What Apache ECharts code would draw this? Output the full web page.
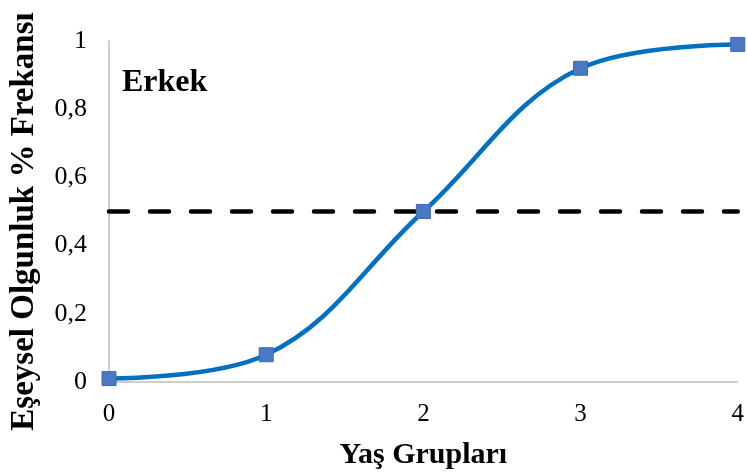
<!DOCTYPE html>
<html>
<head>
<meta charset="utf-8">
<script src="https://cdn.jsdelivr.net/npm/echarts@6/dist/echarts.min.js"></script>
<style>
  html, body { margin: 0; padding: 0; background: #fff; }
  #chart { width: 747px; height: 476px; }
</style>
</head>
<body>
<div id="chart"></div>
<script>
// Age groups and the share of mature males in each
const ageGroups = [0, 1, 2, 3, 4];
const maturity = [0.01, 0.08, 0.5, 0.92, 0.99];
// 50% maturity reference level
const halfLevel = 0.5;
const yTicks = [0, 0.2, 0.4, 0.6, 0.8, 1];

const serif = '"Liberation Serif", "Times New Roman", serif';
const fmt = v => String(Math.round(v * 10) / 10).replace('.', ',');

const chart = echarts.init(document.getElementById('chart'));
chart.setOption({
  animation: false,
  grid: { left: 106, right: 6, top: 41, bottom: 94 },
  title: {
    text: 'Erkek',
    left: 117, top: 62,
    textStyle: { fontFamily: serif, fontSize: 32, fontWeight: 'bold', color: '#000' }
  },
  xAxis: {
    type: 'value',
    min: ageGroups[0], max: ageGroups[ageGroups.length - 1], interval: 1,
    name: 'Yaş Grupları',
    nameLocation: 'middle', nameGap: 58,
    nameTextStyle: { fontFamily: serif, fontSize: 30, fontWeight: 'bold', color: '#000' },
    axisLine: { lineStyle: { color: '#BFBFBF', width: 1.5 } },
    axisTick: { show: false },
    splitLine: { show: false },
    axisLabel: { fontFamily: serif, fontSize: 25, color: '#000', margin: 20 }
  },
  yAxis: {
    type: 'value',
    min: yTicks[0], max: yTicks[yTicks.length - 1], interval: 0.2,
    name: 'Eşeysel Olgunluk % Frekansı',
    nameLocation: 'middle', nameGap: 68,
    nameTextStyle: { fontFamily: serif, fontSize: 33, fontWeight: 'bold', color: '#000', padding: [0, 20, 0, 0] },
    axisLine: { show: true, lineStyle: { color: '#BFBFBF', width: 1.5 } },
    axisTick: { show: false },
    splitLine: { show: false },
    axisLabel: { fontFamily: serif, fontSize: 26, color: '#000', margin: 22, formatter: fmt }
  },
  series: [
    {
      type: 'line',
      data: [[ageGroups[0], halfLevel], [ageGroups[ageGroups.length - 1], halfLevel]],
      symbol: 'none',
      lineStyle: { color: '#000', width: 4.5, type: [19, 22], cap: 'round' },
      z: 1
    },
    {
      type: 'line',
      data: ageGroups.map((a, i) => [a, maturity[i]]),
      smooth: 0.38,
      symbol: 'rect',
      symbolSize: 14,
      itemStyle: { color: '#4A78C4', borderColor: '#3F69B3', borderWidth: 1 },
      lineStyle: { color: '#0070C0', width: 4.5 },
      z: 2
    }
  ]
});
</script>
</body>
</html>
